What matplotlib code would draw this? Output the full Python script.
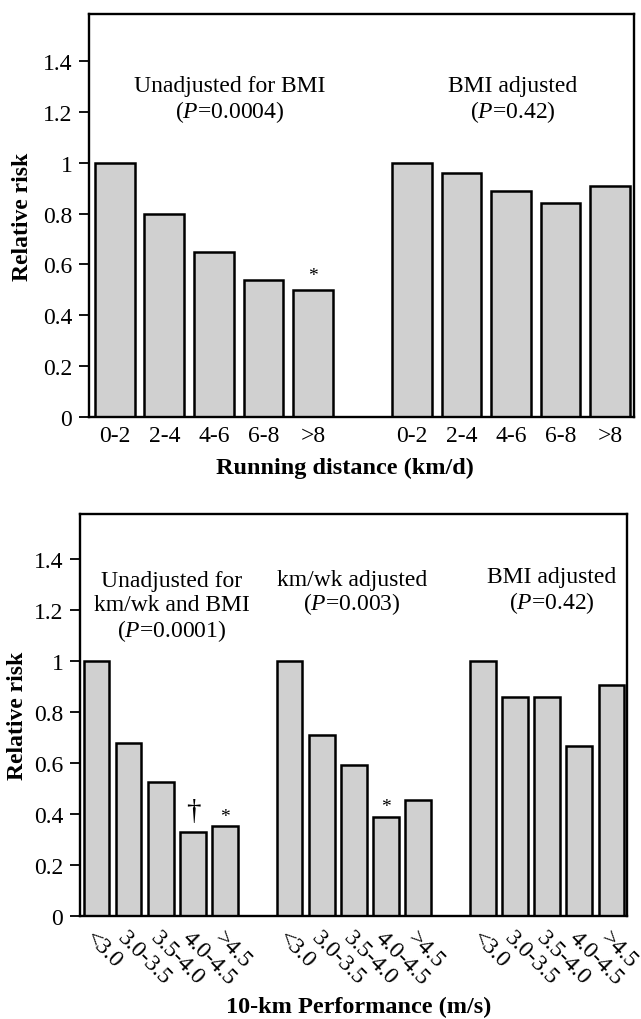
import numpy as np
import matplotlib
matplotlib.use("Agg")
from matplotlib import pyplot as plt

plt.rcParams["font.family"] = ["Liberation Serif", "DejaVu Serif"]
plt.rcParams["mathtext.fontset"] = "custom"
plt.rcParams["mathtext.rm"] = "Liberation Serif"
plt.rcParams["mathtext.it"] = "Liberation Serif:italic"

# running distance (km/d)
dist_labels = ["0-2", "2-4", "4-6", "6-8", ">8"]
dist_unadj = [1.0, 0.80, 0.65, 0.54, 0.50]
dist_bmi = [1.0, 0.96, 0.89, 0.84, 0.91]

# 10-km performance (m/s)
perf_labels = ["<3.0", "3.0-3.5", "3.5-4.0", "4.0-4.5", ">4.5"]
perf_unadj = [1.0, 0.68, 0.527, 0.33, 0.351]
perf_kmwk = [1.0, 0.708, 0.59, 0.39, 0.455]
perf_bmi = [1.0, 0.86, 0.86, 0.668, 0.905]

ytick_vals = [0, 0.2, 0.4, 0.6, 0.8, 1.0, 1.2, 1.4]
ytick_text = ["0", "0.2", "0.4", "0.6", "0.8", "1", "1.2", "1.4"]

BAR_COLOR = "#d0d0d0"
FS_TICK = 17
FS_YLABEL = 17
FS_XLABEL = 17.5
FS_NOTE = 17


def style_axes(ax, ytop):
    ax.set_ylim(0, ytop)
    ax.set_yticks(ytick_vals)
    ax.set_yticklabels(ytick_text, fontsize=FS_TICK)
    ax.tick_params(axis="y", direction="out", length=7, width=1.3, pad=5)
    ax.tick_params(axis="x", length=0)
    for sp in ax.spines.values():
        sp.set_linewidth(1.7)


def draw_group(ax, x0, values):
    x = x0 + np.arange(len(values))
    ax.bar(x, values, width=0.8, color=BAR_COLOR, edgecolor="black",
           linewidth=1.8)
    return x


fig = plt.figure(figsize=(6.41, 10.2), dpi=100)

# ---- top panel ----
ax1 = fig.add_axes([0.1388, 0.5902, 0.8502, 0.3951])
xa = draw_group(ax1, 0, dist_unadj)
xb = draw_group(ax1, 6, dist_bmi)
ax1.set_xlim(-0.52, 10.48)
style_axes(ax1, 1.585)
ax1.set_xticks(np.concatenate([xa, xb]))
ax1.set_xticklabels(dist_labels + dist_labels, fontsize=FS_TICK)
ax1.tick_params(axis="x", pad=6)
ax1.text(2.33, 1.305, "Unadjusted for BMI", ha="center", va="center",
         fontsize=FS_NOTE)
ax1.text(2.33, 1.203, "($\\mathit{P}$=0.0004)", ha="center", va="center",
         fontsize=FS_NOTE)
ax1.text(8.03, 1.305, "BMI adjusted", ha="center", va="center",
         fontsize=FS_NOTE)
ax1.text(8.03, 1.203, "($\\mathit{P}$=0.42)", ha="center", va="center",
         fontsize=FS_NOTE)
ax1.text(xa[4], 0.555, "*", ha="center", va="center", fontsize=14)
ax1.set_ylabel("Relative risk", fontsize=FS_YLABEL, fontweight="bold")
ax1.yaxis.set_label_coords(-0.103, 0.5)
ax1.set_xlabel("Running distance (km/d)", fontsize=FS_XLABEL,
               fontweight="bold", va="center")
ax1.xaxis.set_label_coords(0.469, -0.124)

# ---- bottom panel ----
ax2 = fig.add_axes([0.1248, 0.1010, 0.8533, 0.3941])
xc = draw_group(ax2, 0, perf_unadj)
xd = draw_group(ax2, 6, perf_kmwk)
xe = draw_group(ax2, 12, perf_bmi)
ax2.set_xlim(-0.51, 16.48)
style_axes(ax2, 1.576)
ax2.set_xticks(np.concatenate([xc, xd, xe]))
ax2.set_xticklabels(perf_labels * 3, fontsize=FS_TICK, rotation=-45,
                    ha="left", va="top", rotation_mode="anchor")
ax2.tick_params(axis="x", pad=8)
ax2.text(2.34, 1.314, "Unadjusted for", ha="center", va="center",
         fontsize=FS_NOTE)
ax2.text(2.34, 1.22, "km/wk and BMI", ha="center", va="center",
         fontsize=FS_NOTE)
ax2.text(2.34, 1.12, "($\\mathit{P}$=0.0001)", ha="center", va="center",
         fontsize=FS_NOTE)
ax2.text(7.93, 1.32, "km/wk adjusted", ha="center", va="center",
         fontsize=FS_NOTE)
ax2.text(7.93, 1.227, "($\\mathit{P}$=0.003)", ha="center", va="center",
         fontsize=FS_NOTE)
ax2.text(14.15, 1.33, "BMI adjusted", ha="center", va="center",
         fontsize=FS_NOTE)
ax2.text(14.15, 1.23, "($\\mathit{P}$=0.42)", ha="center", va="center",
         fontsize=FS_NOTE)
ax2.text(xc[3], 0.41, "\u2020", ha="center", va="center", fontsize=21)
ax2.text(xc[4], 0.39, "*", ha="center", va="center", fontsize=14)
ax2.text(xd[3], 0.43, "*", ha="center", va="center", fontsize=14)
ax2.set_ylabel("Relative risk", fontsize=FS_YLABEL, fontweight="bold")
ax2.yaxis.set_label_coords(-0.095, 0.5)
ax2.set_xlabel("10-km Performance (m/s)", fontsize=FS_XLABEL,
               fontweight="bold", va="center")
ax2.xaxis.set_label_coords(0.51, -0.226)

fig.savefig("out.png", dpi=100)
